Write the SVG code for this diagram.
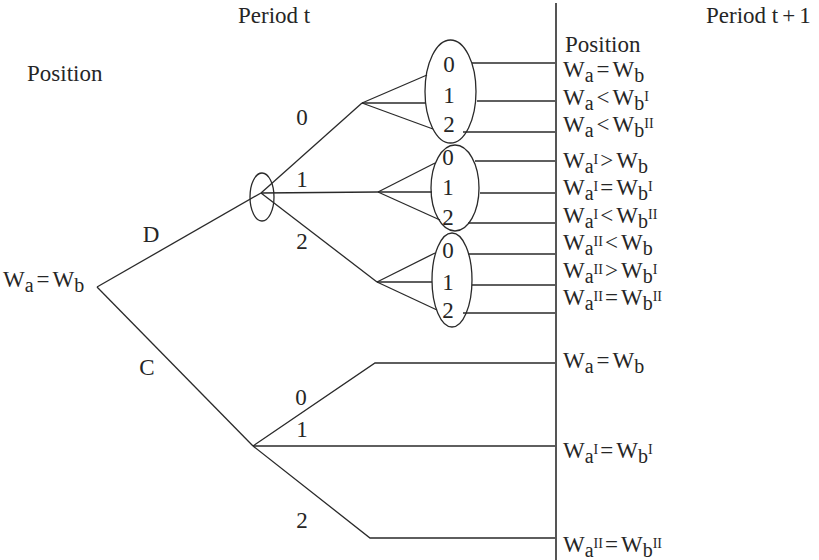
<svg xmlns="http://www.w3.org/2000/svg" width="819" height="560" viewBox="0 0 819 560">
<style>
text{font-family:"Liberation Serif","Times New Roman",Times,serif;font-size:23px;fill:#262626}
.s{font-size:20px}
.p{font-size:14px}
.c{font-size:23px}
line,polyline{stroke:#2a2a2a;stroke-width:1.3;fill:none}
ellipse{stroke:#2a2a2a;stroke-width:1.3;fill:none}
.v{stroke:#555;stroke-width:2}
</style>
<rect width="819" height="560" fill="#fff"/>
<g id="connectors">
<line x1="97" y1="287" x2="261" y2="193"/>
<line x1="97" y1="287" x2="253" y2="446"/>
<line x1="261" y1="193" x2="362" y2="103"/>
<line x1="261" y1="193" x2="378" y2="192"/>
<line x1="261" y1="193" x2="377" y2="282"/>
<line x1="362" y1="103" x2="427" y2="75"/>
<line x1="362" y1="103" x2="425" y2="103"/>
<line x1="362" y1="103" x2="433" y2="129"/>
<line x1="378" y1="192" x2="435" y2="163"/>
<line x1="378" y1="192" x2="432" y2="192"/>
<line x1="378" y1="192" x2="440" y2="220"/>
<line x1="377" y1="282" x2="435" y2="253"/>
<line x1="377" y1="282" x2="432" y2="282"/>
<line x1="377" y1="282" x2="437" y2="310"/>
<line x1="472" y1="63" x2="556" y2="63"/>
<line x1="477" y1="101" x2="556" y2="101"/>
<line x1="463" y1="132" x2="556" y2="132"/>
<line x1="475" y1="161" x2="556" y2="161"/>
<line x1="480" y1="193" x2="556" y2="193"/>
<line x1="468" y1="223" x2="556" y2="223"/>
<line x1="468" y1="254" x2="556" y2="254"/>
<line x1="472" y1="285" x2="556" y2="285"/>
<line x1="463" y1="313" x2="556" y2="313"/>
<polyline points="253,446 375,363 556,363"/>
<line x1="253" y1="446" x2="556" y2="446"/>
<polyline points="253,446 370,538 556,538"/>
<line class="v" x1="556" y1="3" x2="556" y2="560"/>
</g>
<g id="node-root">
<text x="3" y="287">W<tspan class="s" dy="5">a</tspan><tspan dy="-5" dx="3">=</tspan><tspan dx="3">W</tspan><tspan class="s" dy="5">b</tspan></text>
</g>
<g id="node-t">
<ellipse cx="262" cy="197" rx="12" ry="24"/>
</g>
<g id="node-e1">
<ellipse cx="450.5" cy="91.5" rx="25.5" ry="51.5"/>
<text class="c" x="449" y="72" text-anchor="middle">0</text>
<text class="c" x="449" y="103" text-anchor="middle">1</text>
<text class="c" x="449" y="132" text-anchor="middle">2</text>
</g>
<g id="node-e2">
<ellipse cx="455" cy="188" rx="24" ry="43"/>
<text class="c" x="448" y="165" text-anchor="middle">0</text>
<text class="c" x="448" y="195" text-anchor="middle">1</text>
<text class="c" x="448" y="225" text-anchor="middle">2</text>
</g>
<g id="node-e3">
<ellipse cx="452" cy="280" rx="20" ry="47"/>
<text class="c" x="448" y="258" text-anchor="middle">0</text>
<text class="c" x="448" y="290" text-anchor="middle">1</text>
<text class="c" x="448" y="318" text-anchor="middle">2</text>
</g>
<g id="labels">
<text x="238" y="23">Period t</text>
<text x="706" y="23">Period t<tspan dx="4">+</tspan><tspan dx="4">1</tspan></text>
<text x="27" y="81">Position</text>
<text x="565" y="52">Position</text>
<text class="c" x="302" y="125" text-anchor="middle">0</text>
<text class="c" x="302" y="187" text-anchor="middle">1</text>
<text class="c" x="302" y="249" text-anchor="middle">2</text>
<text x="151" y="242" text-anchor="middle">D</text>
<text x="147" y="375" text-anchor="middle">C</text>
<text class="c" x="301" y="405" text-anchor="middle">0</text>
<text class="c" x="302" y="437" text-anchor="middle">1</text>
<text class="c" x="302" y="528" text-anchor="middle">2</text>
</g>
<g id="node-outcomes">
<text x="563" y="77">W<tspan class="s" dy="5">a</tspan><tspan dy="-5" dx="3">=</tspan><tspan dx="3">W</tspan><tspan class="s" dy="5">b</tspan></text>
<text x="563" y="105">W<tspan class="s" dy="5">a</tspan><tspan dy="-5" dx="3">&lt;</tspan><tspan dx="3">W</tspan><tspan class="s" dy="5">b</tspan><tspan class="p" dy="-9">I</tspan></text>
<text x="563" y="132">W<tspan class="s" dy="5">a</tspan><tspan dy="-5" dx="3">&lt;</tspan><tspan dx="3">W</tspan><tspan class="s" dy="5">b</tspan><tspan class="p" dy="-9">II</tspan></text>
<text x="563" y="168">W<tspan class="s" dy="5">a</tspan><tspan class="p" dy="-9">I</tspan><tspan dy="4" dx="2">&gt;</tspan><tspan dx="3">W</tspan><tspan class="s" dy="5">b</tspan></text>
<text x="563" y="195">W<tspan class="s" dy="5">a</tspan><tspan class="p" dy="-9">I</tspan><tspan dy="4" dx="2">=</tspan><tspan dx="3">W</tspan><tspan class="s" dy="5">b</tspan><tspan class="p" dy="-9">I</tspan></text>
<text x="563" y="223">W<tspan class="s" dy="5">a</tspan><tspan class="p" dy="-9">I</tspan><tspan dy="4" dx="2">&lt;</tspan><tspan dx="3">W</tspan><tspan class="s" dy="5">b</tspan><tspan class="p" dy="-9">II</tspan></text>
<text x="563" y="250">W<tspan class="s" dy="5">a</tspan><tspan class="p" dy="-9">II</tspan><tspan dy="4" dx="2">&lt;</tspan><tspan dx="3">W</tspan><tspan class="s" dy="5">b</tspan></text>
<text x="563" y="278">W<tspan class="s" dy="5">a</tspan><tspan class="p" dy="-9">II</tspan><tspan dy="4" dx="2">&gt;</tspan><tspan dx="3">W</tspan><tspan class="s" dy="5">b</tspan><tspan class="p" dy="-9">I</tspan></text>
<text x="563" y="305">W<tspan class="s" dy="5">a</tspan><tspan class="p" dy="-9">II</tspan><tspan dy="4" dx="2">=</tspan><tspan dx="3">W</tspan><tspan class="s" dy="5">b</tspan><tspan class="p" dy="-9">II</tspan></text>
<text x="563" y="368">W<tspan class="s" dy="5">a</tspan><tspan dy="-5" dx="3">=</tspan><tspan dx="3">W</tspan><tspan class="s" dy="5">b</tspan></text>
<text x="563" y="458">W<tspan class="s" dy="5">a</tspan><tspan class="p" dy="-9">I</tspan><tspan dy="4" dx="2">=</tspan><tspan dx="3">W</tspan><tspan class="s" dy="5">b</tspan><tspan class="p" dy="-9">I</tspan></text>
<text x="563" y="552">W<tspan class="s" dy="5">a</tspan><tspan class="p" dy="-9">II</tspan><tspan dy="4" dx="2">=</tspan><tspan dx="3">W</tspan><tspan class="s" dy="5">b</tspan><tspan class="p" dy="-9">II</tspan></text>
</g>
</svg>
